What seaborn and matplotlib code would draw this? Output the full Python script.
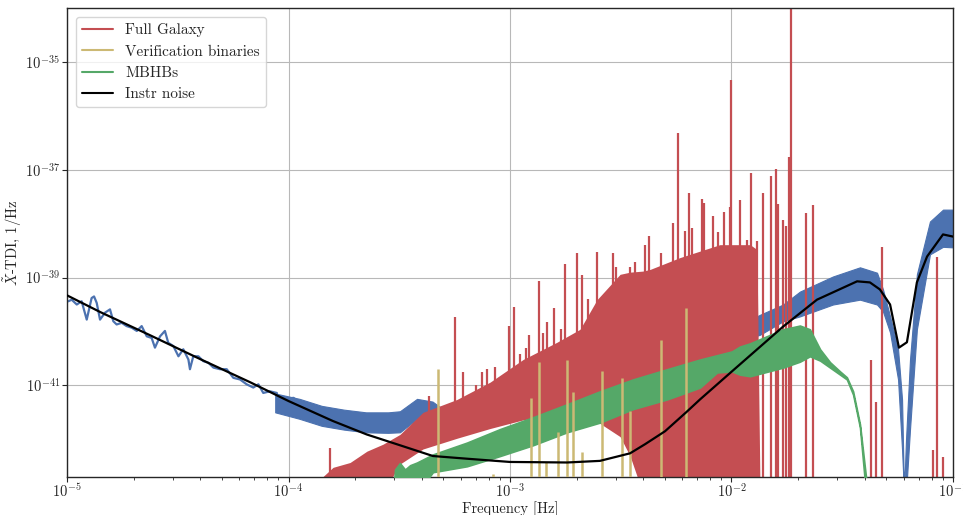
import numpy as np
import pandas as pd
import seaborn as sns
import matplotlib.pyplot as plt
from matplotlib.lines import Line2D

# values, as log10(f [Hz]) and log10(PSD [1/Hz])

# total data (blue), low-frequency part: one jagged line
tot_low_lf = [-4.994, -4.979, -4.956, -4.934, -4.911, -4.889, -4.878, -4.866, -4.851, -4.828,
              -4.806, -4.791, -4.776, -4.753, -4.731, -4.708, -4.685, -4.663, -4.640, -4.618,
              -4.603, -4.580, -4.558, -4.543, -4.520, -4.497, -4.475, -4.452, -4.445, -4.430,
              -4.407, -4.385, -4.362, -4.339, -4.309, -4.279, -4.249, -4.219, -4.189, -4.159,
              -4.136, -4.114, -4.084, -4.053, -4.031, -4.008, -3.978, -3.948]
tot_low_ls = [-39.44, -39.41, -39.50, -39.44, -39.78, -39.38, -39.35, -39.47, -39.78, -39.65,
              -39.59, -39.81, -39.87, -39.84, -39.90, -39.93, -39.99, -39.90, -40.09, -40.12,
              -40.30, -40.09, -39.99, -40.21, -40.27, -40.46, -40.33, -40.52, -40.70, -40.46,
              -40.46, -40.55, -40.58, -40.67, -40.70, -40.70, -40.86, -40.89, -40.98, -41.04,
              -40.98, -41.14, -41.11, -41.14, -41.51, -41.26, -41.23, -41.32]

# total data (blue), noisy band 1e-4 .. 5e-4
tot_mid_lf = [-4.06, -3.95, -3.85, -3.75, -3.65, -3.55, -3.497, -3.42, -3.35, -3.30]
tot_mid_hi = [-41.15, -41.25, -41.38, -41.45, -41.50, -41.50, -41.48, -41.25, -41.30, -41.45]
tot_mid_lo = [-41.50, -41.62, -41.75, -41.82, -41.87, -41.88, -41.87, -41.62, -41.65, -41.65]

# total data (blue), high-frequency band
tot_high_lf = [-1.90, -1.871, -1.767, -1.691, -1.542, -1.420, -1.343, -1.316, -1.284, -1.248,
               -1.230, -1.221, -1.212, -1.194, -1.163, -1.104, -1.045, -1.0]
tot_high_hi = [-39.75, -39.69, -39.50, -39.26, -38.98, -38.81, -38.91, -39.22, -39.72, -40.33,
               -41.26, -43.0, -42.0, -40.52, -38.94, -37.96, -37.74, -37.74]
tot_high_lo = [-40.10, -40.06, -39.81, -39.72, -39.50, -39.41, -39.50, -39.63, -40.02, -40.89,
               -42.19, -43.0, -43.0, -41.81, -39.96, -38.57, -38.43, -38.44]

# full galaxy (red): dense part
gal_lf = [-3.844, -3.799, -3.722, -3.646, -3.573, -3.497, -3.393, -3.239, -3.090, -2.941,
          -2.788, -2.684, -2.607, -2.503, -2.458, -2.400, -2.368, -2.233, -2.052, -1.916,
          -1.885, -1.871]
gal_hi = [-42.69, -42.52, -42.43, -42.22, -42.09, -41.91, -41.50, -41.26, -40.94, -40.52,
          -40.20, -39.96, -39.41, -38.94, -38.90, -38.88, -38.85, -38.63, -38.39, -38.39,
          -38.48, -43.0]
gal_lo = [-43.0, -43.0, -43.0, -43.0, -43.0, -42.46, -42.18, -41.98, -41.80, -41.64,
          -41.54, -41.59, -41.67, -41.95, -42.31, -43.0, -43.0, -43.0, -43.0, -43.0,
          -43.0, -43.0]

# full galaxy: peaks sticking out of the dense part
gal_peak_lf = [-3.366, -3.248, -3.212, -3.153, -3.126, -3.104, -3.068, -3.005, -2.982, -2.955,
               -2.928, -2.914, -2.869, -2.851, -2.833, -2.801, -2.770, -2.752, -2.698, -2.675,
               -2.648, -2.607, -2.535, -2.522, -2.499, -2.458, -2.436]
gal_peak_ls = [-41.20, -39.74, -40.76, -41.00, -40.76, -40.69, -40.65, -39.89, -39.54, -40.41,
               -40.30, -40.06, -39.07, -40.02, -39.83, -39.57, -39.96, -38.74, -38.54, -38.96,
               -39.39, -38.52, -38.54, -38.81, -38.98, -38.81, -38.72]
gal_peak_base = -41.6

# full galaxy: single lines rising from the bottom
gal_line_lf = [-3.813, -2.391, -2.372, -2.318, -2.305, -2.264, -2.242, -2.210, -2.192, -2.178,
               -2.134, -2.124, -2.084, -2.061, -2.034, -2.007, -2.000, -1.962, -1.930, -1.912,
               -1.885, -1.858, -1.822, -1.799, -1.790, -1.767, -1.754, -1.740, -1.731, -1.664,
               -1.632, -1.370, -1.348, -1.321, -1.090, -1.072, -1.045]
gal_line_ls = [-42.17, -38.39, -38.22, -38.54, -38.76, -37.98, -36.31, -38.13, -37.44, -38.09,
               -37.54, -37.61, -37.85, -38.15, -37.78, -37.70, -35.33, -37.56, -38.30, -37.06,
               -38.33, -37.43, -37.11, -36.98, -37.63, -37.93, -38.04, -36.76, -33.5, -37.80,
               -37.65, -40.52, -41.30, -38.43, -42.19, -38.61, -42.33]

# verification binaries (yellow)
vb_lf = [-3.325, -3.077, -2.905, -2.869, -2.837, -2.783, -2.743, -2.716, -2.675, -2.585,
         -2.494, -2.458, -2.318, -2.205]
vb_ls = [-40.70, -42.65, -41.24, -40.56, -42.43, -41.87, -40.52, -41.13, -42.24, -40.74,
         -40.87, -41.48, -40.15, -39.56]

# MBHBs (green)
mb_lf = [-3.528, -3.519, -3.497, -3.474, -3.451, -3.420, -3.348, -3.194, -3.045, -2.896,
         -2.743, -2.594, -2.445, -2.291, -2.142, -2.065, -1.998, -1.962, -1.916, -1.767,
         -1.691, -1.646, -1.600, -1.555, -1.510, -1.479, -1.451, -1.420, -1.393, -1.385]
mb_hi = [-43.0, -42.56, -42.44, -42.56, -42.48, -42.43, -42.28, -42.06, -41.81, -41.59,
         -41.35, -41.11, -40.89, -40.70, -40.52, -40.44, -40.37, -40.28, -40.22, -39.96,
         -39.89, -39.96, -40.33, -40.57, -40.74, -40.85, -41.11, -41.72, -42.69, -43.0]
mb_lo = [-43.0, -43.0, -43.0, -43.0, -43.0, -43.0, -42.61, -42.50, -42.31, -42.11,
         -41.87, -41.69, -41.44, -41.26, -41.04, -40.76, -40.74, -40.80, -40.83, -40.67,
         -40.56, -40.46, -40.54, -40.67, -40.80, -40.89, -41.17, -41.78, -43.0, -43.0]

# instrumental noise (black)
noise_lf = [-5.0, -4.85, -4.625, -4.40, -4.174, -4.0, -3.80, -3.647, -3.497, -3.348,
            -3.194, -3.0, -2.743, -2.594, -2.458, -2.39, -2.30, -2.205, -2.142, -1.998,
            -1.767, -1.614, -1.433, -1.375, -1.330, -1.284, -1.244, -1.208, -1.163, -1.117,
            -1.045, -1.0]
noise_ls = [-39.33, -39.64, -40.07, -40.51, -40.94, -41.29, -41.66, -41.91, -42.11, -42.31,
            -42.36, -42.42, -42.43, -42.40, -42.26, -42.09, -41.85, -41.50, -41.26, -40.74,
            -39.91, -39.41, -39.07, -39.09, -39.22, -39.50, -40.30, -40.20, -39.09, -38.61,
            -38.20, -38.24]

labels = ["Full Galaxy", "Verification binaries", "MBHBs", "Instr noise"]


def p10(a):
    return 10.0 ** np.asarray(a, dtype=float)


sns.set_style("whitegrid", {"axes.edgecolor": "0.15", "grid.color": "0.72",
                            "xtick.bottom": True, "ytick.left": True})
plt.rcParams["font.family"] = ["cmr10", "DejaVu Serif"]
plt.rcParams["mathtext.fontset"] = "cm"
plt.rcParams["axes.formatter.use_mathtext"] = True
plt.rcParams["axes.unicode_minus"] = False

pal = sns.color_palette("deep6")
c_blue, c_green, c_red, c_yel = pal[0], pal[1], pal[2], pal[4]

fig = plt.figure(figsize=(9.63, 5.15), dpi=100)
ax = fig.add_axes([0.0696, 0.0738, 0.92, 0.9107])
ax.set_xscale("log")
ax.set_yscale("log")

bottom = 10.0 ** -43

# blue total
df_low = pd.DataFrame({"f": p10(tot_low_lf), "S": p10(tot_low_ls)})
sns.lineplot(data=df_low, x="f", y="S", color=c_blue, lw=1.6, ax=ax,
             estimator=None, sort=False, zorder=1)
ax.fill_between(p10(tot_mid_lf), p10(tot_mid_lo), p10(tot_mid_hi), color=c_blue, lw=0.8, zorder=1)
ax.fill_between(p10(tot_high_lf), p10(tot_high_lo), p10(tot_high_hi), color=c_blue, lw=0.8, zorder=1)

# red galaxy
ax.fill_between(p10(gal_lf), p10(gal_lo), p10(gal_hi), color=c_red, lw=0, zorder=2)
ax.vlines(p10(gal_peak_lf), 10.0 ** gal_peak_base, p10(gal_peak_ls), color=c_red, lw=1.6, zorder=2)
ax.vlines(p10(gal_line_lf), bottom, p10(gal_line_ls), color=c_red, lw=1.6, zorder=2)

# green MBHBs
ax.fill_between(p10(mb_lf), p10(mb_lo), p10(mb_hi), color=c_green, edgecolor=c_green,
                lw=1.2, zorder=3)

# yellow verification binaries
ax.vlines(p10(vb_lf), bottom, p10(vb_ls), color=c_yel, lw=1.8, zorder=4)

# black instrument noise
df_n = pd.DataFrame({"f": p10(noise_lf), "S": p10(noise_ls)})
sns.lineplot(data=df_n, x="f", y="S", color="k", lw=1.6, ax=ax,
             estimator=None, sort=False, zorder=5)

ax.set_xlim(1e-5, 1e-1)
ax.set_ylim(2e-43, 1e-34)
ax.set_yticks([1e-35, 1e-37, 1e-39, 1e-41])
ax.yaxis.set_minor_locator(plt.NullLocator())
ax.tick_params(axis="both", which="major", labelsize=10.5, length=3.5, width=0.8,
               color="0.15", pad=1.5)
ax.tick_params(axis="x", which="major", pad=0.5)
ax.tick_params(axis="x", which="minor", length=2, width=0.6, color="0.15")
ax.grid(True, which="major", color="0.72", lw=0.8)
ax.grid(False, which="minor")
for s in ax.spines.values():
    s.set_color("0.15")
    s.set_linewidth(1.0)

ax.set_xlabel("Frequency [Hz]", fontsize=10.5)
ax.set_ylabel(r"$\tilde{X}$-TDI, 1/Hz", fontsize=10.5)
ax.xaxis.set_label_coords(0.5, -0.051)
ax.yaxis.set_label_coords(-0.048, 0.5)

handles = [Line2D([], [], color=c, lw=1.5) for c in (c_red, c_yel, c_green, "k")]
ax.legend(handles, labels, loc="upper left", fontsize=11, frameon=True,
          framealpha=0.8, edgecolor="0.8", borderaxespad=0.6)

fig.savefig("out.png", dpi=100)
